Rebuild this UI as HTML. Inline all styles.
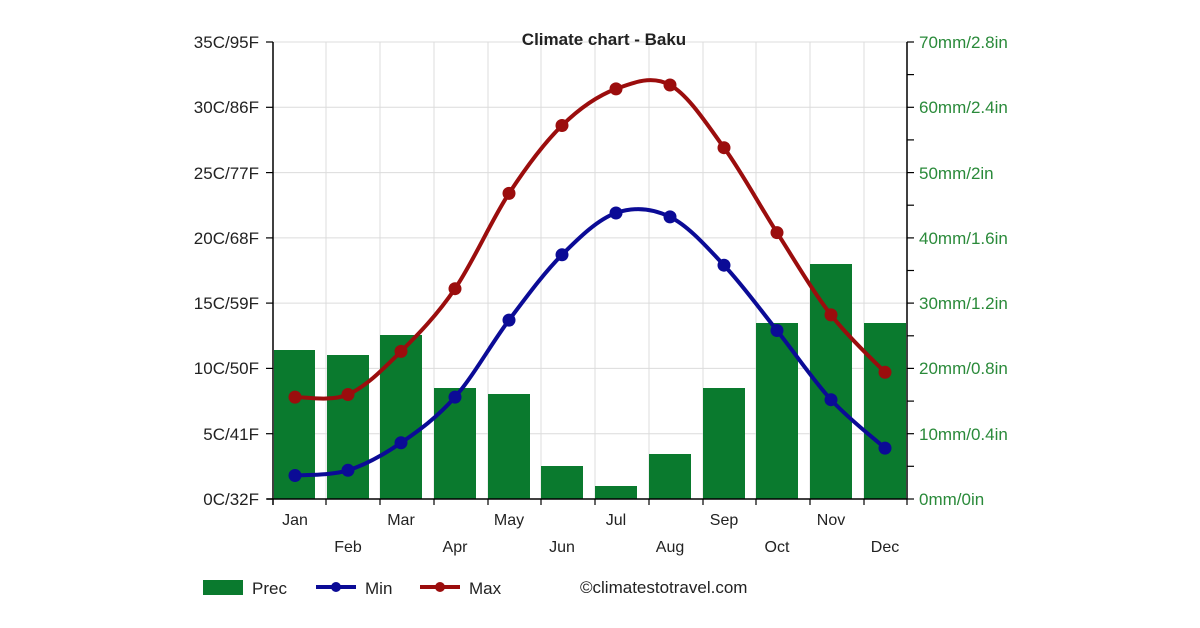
<!DOCTYPE html>
<html><head><meta charset="utf-8"><style>body{margin:0;background:#fff}svg{display:block;font-family:"Liberation Sans",Arial,sans-serif}</style></head>
<body>
<svg width="1200" height="628" viewBox="0 0 1200 628">
<rect width="1200" height="628" fill="#fff"/>
<g stroke="#dcdcdc" stroke-width="1">
<line x1="273" y1="42" x2="907" y2="42"/><line x1="273" y1="107.3" x2="907" y2="107.3"/><line x1="273" y1="172.6" x2="907" y2="172.6"/><line x1="273" y1="237.9" x2="907" y2="237.9"/><line x1="273" y1="303.1" x2="907" y2="303.1"/><line x1="273" y1="368.4" x2="907" y2="368.4"/><line x1="273" y1="433.7" x2="907" y2="433.7"/>
<line x1="326" y1="42" x2="326" y2="499"/><line x1="380" y1="42" x2="380" y2="499"/><line x1="434" y1="42" x2="434" y2="499"/><line x1="488" y1="42" x2="488" y2="499"/><line x1="541" y1="42" x2="541" y2="499"/><line x1="595" y1="42" x2="595" y2="499"/><line x1="649" y1="42" x2="649" y2="499"/><line x1="703" y1="42" x2="703" y2="499"/><line x1="756" y1="42" x2="756" y2="499"/><line x1="810" y1="42" x2="810" y2="499"/><line x1="864" y1="42" x2="864" y2="499"/>
</g>
<g fill="#0a7a2e">
<rect x="274" y="350" width="41" height="149"/><rect x="327" y="355" width="42" height="144"/><rect x="380" y="335" width="42" height="164"/><rect x="434" y="388" width="42" height="111"/><rect x="488" y="394" width="42" height="105"/><rect x="541" y="466" width="42" height="33"/><rect x="595" y="486" width="42" height="13"/><rect x="649" y="454" width="42" height="45"/><rect x="703" y="388" width="42" height="111"/><rect x="756" y="323" width="42" height="176"/><rect x="810" y="264" width="42" height="235"/><rect x="864" y="323" width="42" height="176"/>
</g>
<g stroke="#000" stroke-width="1.5" fill="none">
<line x1="273" y1="42" x2="273" y2="505"/><line x1="907" y1="42" x2="907" y2="499"/><line x1="267" y1="499" x2="907" y2="499"/>
</g>
<g stroke="#000" stroke-width="1.2">
<line x1="266" y1="42" x2="273" y2="42"/><line x1="266" y1="107.3" x2="273" y2="107.3"/><line x1="266" y1="172.6" x2="273" y2="172.6"/><line x1="266" y1="237.9" x2="273" y2="237.9"/><line x1="266" y1="303.1" x2="273" y2="303.1"/><line x1="266" y1="368.4" x2="273" y2="368.4"/><line x1="266" y1="433.7" x2="273" y2="433.7"/><line x1="266" y1="499" x2="273" y2="499"/>
<line x1="907" y1="42" x2="914" y2="42"/><line x1="907" y1="74.6" x2="914" y2="74.6"/><line x1="907" y1="107.3" x2="914" y2="107.3"/><line x1="907" y1="139.9" x2="914" y2="139.9"/><line x1="907" y1="172.6" x2="914" y2="172.6"/><line x1="907" y1="205.2" x2="914" y2="205.2"/><line x1="907" y1="237.9" x2="914" y2="237.9"/><line x1="907" y1="270.5" x2="914" y2="270.5"/><line x1="907" y1="303.1" x2="914" y2="303.1"/><line x1="907" y1="335.8" x2="914" y2="335.8"/><line x1="907" y1="368.4" x2="914" y2="368.4"/><line x1="907" y1="401.1" x2="914" y2="401.1"/><line x1="907" y1="433.7" x2="914" y2="433.7"/><line x1="907" y1="466.3" x2="914" y2="466.3"/><line x1="907" y1="499" x2="914" y2="499"/>
<line x1="326" y1="499" x2="326" y2="505"/><line x1="380" y1="499" x2="380" y2="505"/><line x1="434" y1="499" x2="434" y2="505"/><line x1="488" y1="499" x2="488" y2="505"/><line x1="541" y1="499" x2="541" y2="505"/><line x1="595" y1="499" x2="595" y2="505"/><line x1="649" y1="499" x2="649" y2="505"/><line x1="703" y1="499" x2="703" y2="505"/><line x1="756" y1="499" x2="756" y2="505"/><line x1="810" y1="499" x2="810" y2="505"/><line x1="864" y1="499" x2="864" y2="505"/><line x1="907" y1="499" x2="907" y2="505"/>
</g>
<path id="pmax" fill="none" stroke="#9b0d0d" stroke-width="4" stroke-linejoin="round" d="M295,397.1 L348,394.5 L401,351.4 L455,288.7 L509,193.4 L562,125.5 L616,88.9 L670,85.0 L724,147.7 L777,232.6 L831,314.9 L885,372.3"/>
<g fill="#9b0d0d"><circle cx="295" cy="397.1" r="6.5"/><circle cx="348" cy="394.5" r="6.5"/><circle cx="401" cy="351.4" r="6.5"/><circle cx="455" cy="288.7" r="6.5"/><circle cx="509" cy="193.4" r="6.5"/><circle cx="562" cy="125.5" r="6.5"/><circle cx="616" cy="88.9" r="6.5"/><circle cx="670" cy="85.0" r="6.5"/><circle cx="724" cy="147.7" r="6.5"/><circle cx="777" cy="232.6" r="6.5"/><circle cx="831" cy="314.9" r="6.5"/><circle cx="885" cy="372.3" r="6.5"/></g>
<path id="pmin" fill="none" stroke="#0b0b96" stroke-width="4" stroke-linejoin="round" d="M295,475.5 L348,470.3 L401,442.8 L455,397.1 L509,320.1 L562,254.8 L616,213.0 L670,216.9 L724,265.2 L777,330.5 L831,399.7 L885,448.1"/>
<g fill="#0b0b96"><circle cx="295" cy="475.5" r="6.5"/><circle cx="348" cy="470.3" r="6.5"/><circle cx="401" cy="442.8" r="6.5"/><circle cx="455" cy="397.1" r="6.5"/><circle cx="509" cy="320.1" r="6.5"/><circle cx="562" cy="254.8" r="6.5"/><circle cx="616" cy="213.0" r="6.5"/><circle cx="670" cy="216.9" r="6.5"/><circle cx="724" cy="265.2" r="6.5"/><circle cx="777" cy="330.5" r="6.5"/><circle cx="831" cy="399.7" r="6.5"/><circle cx="885" cy="448.1" r="6.5"/></g>
<text x="604" y="45" text-anchor="middle" font-size="17" font-weight="bold" fill="#222">Climate chart - Baku</text>
<g font-size="17" fill="#222" text-anchor="end">
<text x="259" y="48">35C/95F</text><text x="259" y="113">30C/86F</text><text x="259" y="179">25C/77F</text><text x="259" y="244">20C/68F</text><text x="259" y="309">15C/59F</text><text x="259" y="374">10C/50F</text><text x="259" y="440">5C/41F</text><text x="259" y="505">0C/32F</text>
</g>
<g font-size="17" fill="#2a8a3a">
<text x="919" y="48">70mm/2.8in</text><text x="919" y="113">60mm/2.4in</text><text x="919" y="179">50mm/2in</text><text x="919" y="244">40mm/1.6in</text><text x="919" y="309">30mm/1.2in</text><text x="919" y="374">20mm/0.8in</text><text x="919" y="440">10mm/0.4in</text><text x="919" y="505">0mm/0in</text>
</g>
<g font-size="16" fill="#222" text-anchor="middle">
<text x="295" y="525">Jan</text><text x="348" y="552">Feb</text><text x="401" y="525">Mar</text><text x="455" y="552">Apr</text><text x="509" y="525">May</text><text x="562" y="552">Jun</text><text x="616" y="525">Jul</text><text x="670" y="552">Aug</text><text x="724" y="525">Sep</text><text x="777" y="552">Oct</text><text x="831" y="525">Nov</text><text x="885" y="552">Dec</text>
</g>
<rect x="203" y="580" width="40" height="15" fill="#0a7a2e"/>
<text x="252" y="594" font-size="17" fill="#222">Prec</text>
<line x1="316" y1="587" x2="356" y2="587" stroke="#0b0b96" stroke-width="4"/><circle cx="336" cy="587" r="5" fill="#0b0b96"/>
<text x="365" y="594" font-size="17" fill="#222">Min</text>
<line x1="420" y1="587" x2="460" y2="587" stroke="#9b0d0d" stroke-width="4"/><circle cx="440" cy="587" r="5" fill="#9b0d0d"/>
<text x="469" y="594" font-size="17" fill="#222">Max</text>
<text x="580" y="593" font-size="17" fill="#222">©climatestotravel.com</text>
</svg>
<script>
function smooth(id){var el=document.getElementById(id);var pts=el.getAttribute('d').replace(/[ML]/g,' ').trim().split(/\s+/).map(function(s){var a=s.split(',');return [+a[0],+a[1]];});
var d='M'+pts[0][0]+','+pts[0][1];
for(var i=0;i<pts.length-1;i++){var p0=pts[i-1]||pts[i],p1=pts[i],p2=pts[i+1],p3=pts[i+2]||pts[i+1];
var c1=[p1[0]+(p2[0]-p0[0])/6,p1[1]+(p2[1]-p0[1])/6],c2=[p2[0]-(p3[0]-p1[0])/6,p2[1]-(p3[1]-p1[1])/6];
d+=' C'+c1[0]+','+c1[1]+' '+c2[0]+','+c2[1]+' '+p2[0]+','+p2[1];}
el.setAttribute('d',d);}
smooth('pmax');smooth('pmin');
</script>
</body></html>
